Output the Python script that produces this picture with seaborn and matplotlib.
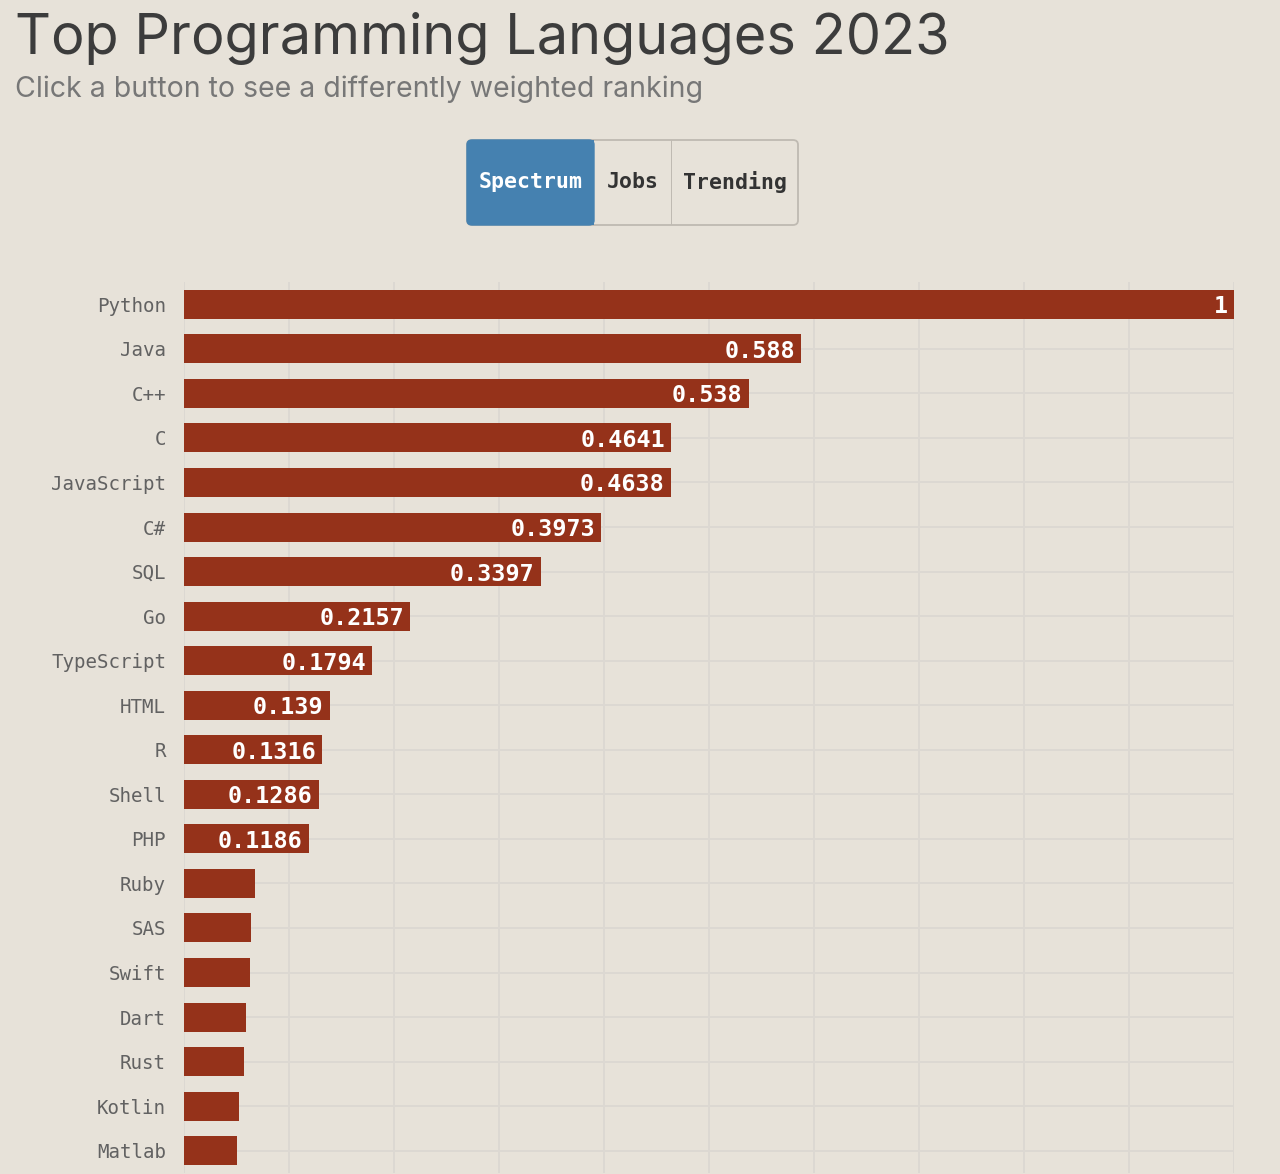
import matplotlib
matplotlib.use("Agg")
import matplotlib.pyplot as plt
from matplotlib.patches import FancyBboxPatch, Rectangle
import seaborn as sns

languages = ["Python", "Java", "C++", "C", "JavaScript", "C#", "SQL", "Go",
             "TypeScript", "HTML", "R", "Shell", "PHP", "Ruby", "SAS", "Swift",
             "Dart", "Rust", "Kotlin", "Matlab"]
scores = [1.0, 0.588, 0.538, 0.4641, 0.4638, 0.3973, 0.3397, 0.2157,
          0.1794, 0.139, 0.1316, 0.1286, 0.1186, 0.068, 0.064, 0.0625,
          0.059, 0.0575, 0.052, 0.050]
# only the top 13 carry a printed value
shown_labels = ["1", "0.588", "0.538", "0.4641", "0.4638", "0.3973", "0.3397",
                "0.2157", "0.1794", "0.139", "0.1316", "0.1286", "0.1186"]
buttons = ["Spectrum", "Jobs", "Trending"]

BG = "#e7e2d9"
BAR = "#95321a"
GRID = "#dcd8d2"
BLUE = "#4581b0"

sns.set_theme(style="white")
plt.rcParams["font.family"] = ["DejaVu Sans Mono"]

W, H = 1280, 1174
fig = plt.figure(figsize=(W / 100, H / 100), dpi=100, facecolor=BG)


def fx(px):
    return px / W


def fy(py):
    return 1 - py / H


ax = fig.add_axes([fx(184), fy(1173), fx(1234) - fx(184), fy(282) - fy(1173)])
ax.set_facecolor(BG)

sns.barplot(x=scores, y=languages, color=BAR, saturation=1, width=0.65,
            orient="h", ax=ax, zorder=3, linewidth=0, edgecolor="none")

ax.set_xlim(0, 1)
ax.set_ylim(len(languages) - 0.5, -0.5)
ax.set_xticks([i / 10 for i in range(11)])
ax.set_xticklabels([])
ax.tick_params(axis="x", length=0)
ax.tick_params(axis="y", length=8.6, width=1.4, color=GRID, pad=4.3,
               labelsize=13.8, labelcolor="#626262")
ax.grid(True, axis="both", color=GRID, linewidth=1.4, zorder=0)
ax.set_axisbelow(True)
for s in ax.spines.values():
    s.set_visible(False)
ax.set_xlabel("")
ax.set_ylabel("")

for i, lab in enumerate(shown_labels):
    ax.annotate(lab, xy=(scores[i], i), xytext=(-4.5, 0),
                textcoords="offset points", ha="right", va="center_baseline",
                color="white", fontsize=16.8, fontweight="bold", zorder=5)

# title block
fig.text(fx(15), fy(54), "Top Programming Languages 2023", family="Inter",
         fontsize=40.2, color="#3c3c3c", va="baseline", ha="left")
fig.text(fx(15), fy(97), "Click a button to see a differently weighted ranking",
         family="Inter", fontsize=20.5, color="#777777",
         va="baseline", ha="left")

# button group
edges = [467, 594, 671, 798]
top, bottom = 140, 225
outer = FancyBboxPatch((fx(467), fy(bottom)), fx(798) - fx(467), fy(top) - fy(bottom),
                       boxstyle="round,pad=0,rounding_size=0.004",
                       transform=fig.transFigure, facecolor=BG,
                       edgecolor="#bfbab2", linewidth=1.3)
fig.patches.append(outer)
blue = FancyBboxPatch((fx(467), fy(bottom)), fx(594) - fx(467), fy(top) - fy(bottom),
                      boxstyle="round,pad=0,rounding_size=0.004",
                      transform=fig.transFigure, facecolor=BLUE,
                      edgecolor=BLUE, linewidth=1)
fig.patches.append(blue)
fig.patches.append(Rectangle((fx(560), fy(bottom)), fx(594) - fx(560), fy(top) - fy(bottom),
                             transform=fig.transFigure, facecolor=BLUE, edgecolor="none"))
fig.patches.append(Rectangle((fx(671), fy(bottom)), 0.0008, fy(top) - fy(bottom),
                             transform=fig.transFigure, facecolor="#bfbab2", edgecolor="none"))
for k, name in enumerate(buttons):
    cx = (edges[k] + edges[k + 1]) / 2
    fig.text(fx(cx), fy(182), name, ha="center", va="center", fontsize=15.5,
             fontweight="bold", color="white" if k == 0 else "#333333")

fig.savefig("out.png", dpi=100, facecolor=BG)
